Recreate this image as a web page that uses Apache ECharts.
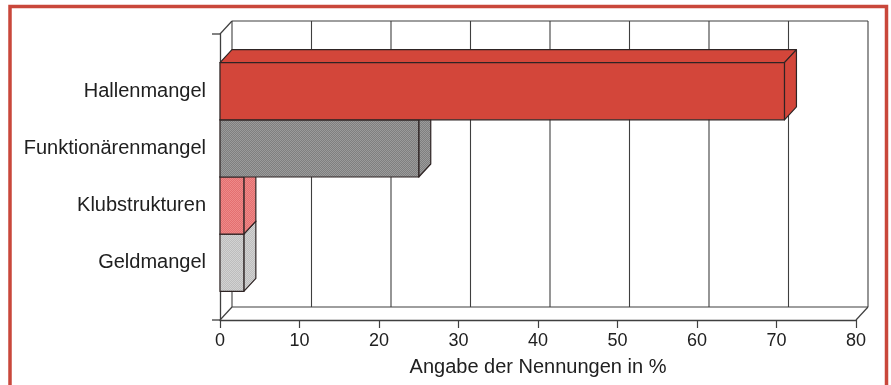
<!DOCTYPE html>
<html>
<head>
<meta charset="utf-8">
<script src="https://cdn.jsdelivr.net/npm/echarts@6/dist/echarts.min.js"></script>
<style>
  html, body { margin: 0; padding: 0; background: #ffffff; }
  #chart { width: 891px; height: 385px; }
</style>
</head>
<body>
<div id="chart"></div>
<script>
// Reasons named, share of mentions in percent (top to bottom)
const categories = ['Hallenmangel', 'Funktionärenmangel', 'Klubstrukturen', 'Geldmangel'];
const shares = [71, 25, 3, 3];
const xTicks = [0, 10, 20, 30, 40, 50, 60, 70, 80];
const xTitle = 'Angabe der Nennungen in %';

// Styling
const DEPTH = [12, -13];               // pseudo-3D offset of the back plane
const FONT = 'Liberation Sans';
const EDGE = '#2e2424';
const FRAME = '#3f3f3f';
const TEXT = '#202020';

function dither(base, spot) {
  const cv = document.createElement('canvas');
  cv.width = 2; cv.height = 2;
  const g = cv.getContext('2d');
  g.fillStyle = base; g.fillRect(0, 0, 2, 2);
  g.fillStyle = spot; g.fillRect(0, 0, 1, 1); g.fillRect(1, 1, 1, 1);
  return { image: cv, repeat: 'repeat' };
}

const faceFills = [
  '#d3463a',
  dither('#7f7f7f', '#9b9b9b'),
  dither('#e46f70', '#ee8a89'),
  dither('#bdbdbd', '#d2d2d2')
];

const n = categories.length;
const xMax = xTicks[xTicks.length - 1];

// bottom row first so rows above overlap the hidden top faces
const barData = categories.map((c, i) => [shares[i], n - i, i]).reverse();

const chart = echarts.init(document.getElementById('chart'));

chart.setOption({
  backgroundColor: '#ffffff',
  animation: false,
  graphic: [{
    type: 'rect',
    shape: { x: 10, y: 6.5, width: 876.5, height: 400 },
    style: { fill: 'none', stroke: '#c9473b', lineWidth: 3.5 },
    z: 0
  }],
  grid: { left: 220, right: 35, top: 34, bottom: 65 },
  xAxis: {
    type: 'value',
    min: xTicks[0],
    max: xMax,
    interval: 10,
    splitLine: { show: false },
    axisLine: { show: true, lineStyle: { color: FRAME, width: 1.3 } },
    axisTick: { show: true, length: 8, lineStyle: { color: FRAME, width: 1.2 } },
    axisLabel: { fontFamily: FONT, fontSize: 18, color: TEXT, margin: 12 },
    name: xTitle,
    nameLocation: 'middle',
    nameGap: 37,
    nameTextStyle: { fontFamily: FONT, fontSize: 20, color: TEXT }
  },
  yAxis: {
    type: 'value',
    min: 0,
    max: n + 1,
    interval: 1,
    splitLine: { show: false },
    axisTick: { show: false },
    axisLine: { show: true, lineStyle: { color: FRAME, width: 1.3 } },
    axisLabel: {
      fontFamily: FONT, fontSize: 20, color: TEXT, margin: 14,
      padding: [3, 0, 0, 0],
      formatter: v => (v >= 1 && v <= n) ? categories[n - v] : ''
    }
  },
  series: [
    {
      // back wall, floor edges and depth lines
      type: 'custom',
      z: 1,
      silent: true,
      data: [[0, 0]],
      renderItem: (params, api) => {
        const [dx, dy] = DEPTH;
        const lo = api.coord([0, 0]);
        const hi = api.coord([xMax, n + 1]);
        const line = (x1, y1, x2, y2, w) => ({
          type: 'line',
          shape: { x1, y1, x2, y2 },
          style: { stroke: FRAME, lineWidth: w || 1.2 }
        });
        const children = [];
        xTicks.forEach(t => {
          const p = api.coord([t, 0]);
          children.push(line(p[0] + dx, lo[1] + dy, p[0] + dx, hi[1] + dy, 1.1));
        });
        children.push(line(lo[0] + dx, hi[1] + dy, hi[0] + dx, hi[1] + dy));
        children.push(line(lo[0] + dx, lo[1] + dy, hi[0] + dx, lo[1] + dy));
        children.push(line(lo[0], hi[1], lo[0] + dx, hi[1] + dy));
        children.push(line(lo[0], lo[1], lo[0] + dx, lo[1] + dy));
        children.push(line(hi[0], lo[1], hi[0] + dx, lo[1] + dy));
        children.push(line(lo[0] - 8, hi[1], lo[0], hi[1], 1.3));
        children.push(line(lo[0] - 8, lo[1], lo[0], lo[1], 1.3));
        return { type: 'group', children };
      }
    },
    {
      // 3D blocks: top face, side face, front face
      type: 'custom',
      z: 3,
      data: barData,
      renderItem: (params, api) => {
        const [dx, dy] = DEPTH;
        const v = api.value(0), slot = api.value(1), ci = api.value(2);
        const a = api.coord([0, slot + 0.5]);
        const b = api.coord([v, slot - 0.5]);
        const x0 = a[0], yt = a[1], x1 = b[0], yb = b[1];
        const fill = faceFills[ci];
        const st = { fill, stroke: EDGE, lineWidth: 1.2, lineJoin: 'round' };
        return {
          type: 'group',
          children: [
            { type: 'polygon', shape: { points: [[x0, yt], [x1, yt], [x1 + dx, yt + dy], [x0 + dx, yt + dy]] }, style: st },
            { type: 'polygon', shape: { points: [[x1, yt], [x1 + dx, yt + dy], [x1 + dx, yb + dy], [x1, yb]] }, style: st },
            { type: 'rect', shape: { x: x0, y: yt, width: x1 - x0, height: yb - yt }, style: st }
          ]
        };
      }
    }
  ]
});
</script>
</body>
</html>
